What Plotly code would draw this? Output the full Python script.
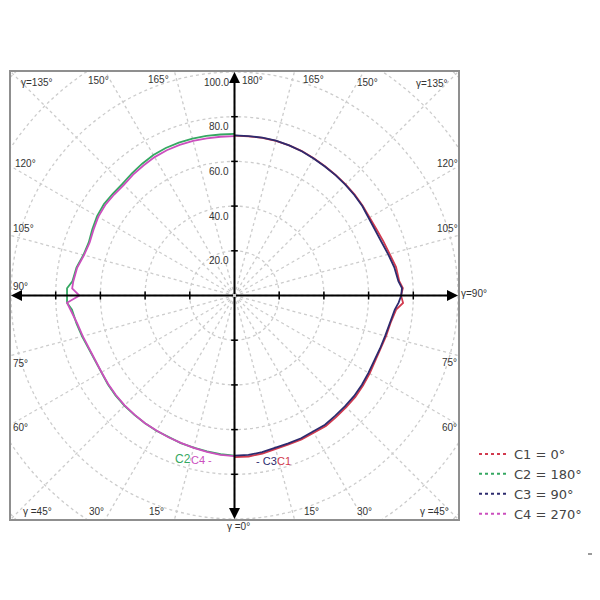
import numpy as np
import plotly.graph_objects as go

# gamma angles (deg), 0 = straight down, 180 = straight up
gamma = [0, 5, 10, 15, 20, 25, 30, 35, 40, 45, 50, 55, 60, 65, 70, 75, 80, 85,
         87.5, 90, 92.5,
         95, 100, 105, 110, 115, 120, 125, 130, 135, 140, 145, 150, 155, 160, 165, 170, 175, 180]

# C1 = 0 deg (right half)
c1 = [72.3, 72.3, 71.8, 71.2, 70.9, 71.0, 71.0, 71.3, 70.9, 70.7, 70.6, 70.2, 69.8, 69.5, 69.7, 70.2, 70.9, 72.6,
      75.5, 74.5, 75.4,
      74.0, 73.4, 72.0, 70.9, 70.1, 69.9, 70.0, 70.2, 70.3, 70.4, 70.6, 70.9, 71.3, 71.5, 71.6, 71.6, 71.5, 71.5]
# C3 = 90 deg (right half)
c3 = [71.6, 71.6, 71.2, 70.6, 70.4, 70.5, 70.3, 70.6, 70.2, 70.0, 69.9, 69.6, 69.2, 69.0, 69.3, 69.8, 70.6, 72.0,
      73.5, 74.6, 75.0,
      73.6, 72.6, 71.2, 70.0, 69.5, 69.5, 69.8, 70.0, 70.1, 70.3, 70.5, 70.8, 71.2, 71.5, 71.7, 71.7, 71.6, 71.6]
# C2 = 180 deg (left half)
c2 = [71.6, 71.3, 70.8, 70.5, 70.3, 70.0, 69.9, 69.8, 69.7, 69.7, 69.5, 69.2, 68.8, 68.7, 69.3, 70.6, 71.8, 73.0,
      75.0, 75.0, 75.0,
      72.8, 71.8, 70.0, 69.4, 70.2, 71.0, 71.3, 71.0, 70.8, 71.4, 72.0, 72.6, 72.8, 72.8, 72.7, 72.5, 72.3, 72.3]
# C4 = 270 deg (left half)
c4 = [71.9, 71.6, 71.0, 70.6, 70.2, 70.0, 69.8, 69.8, 69.6, 69.5, 69.3, 69.0, 68.7, 68.6, 69.2, 70.3, 71.5, 73.8,
      75.0, 69.4, 72.7,
      72.4, 71.5, 69.7, 69.0, 69.6, 70.4, 70.6, 70.3, 70.0, 70.6, 71.0, 71.5, 71.7, 71.7, 71.6, 71.4, 71.3, 71.3]

legend_names = ["C1 = 0°", "C2 = 180°", "C3 = 90°", "C4 = 270°"]
colors = {"C1": "#d23a4e", "C2": "#35a862", "C3": "#2d2b6e", "C4": "#cc4fbe"}

radial_ticks = [20, 40, 60, 80, 100]
radial_tick_labels = ["20.0", "40.0", "60.0", "80.0", "100.0"]

fig = go.Figure()

g = np.radians(gamma)
curves = [("C1", c1, 1), ("C3", c3, 1), ("C2", c2, -1), ("C4", c4, -1)]
for key, r, side in curves:
    r = np.array(r)
    fig.add_trace(go.Scatter(x=side * r * np.sin(g), y=-r * np.cos(g), mode="lines",
                             line=dict(color=colors[key], width=1.8),
                             showlegend=False, hoverinfo="skip"))

for name in legend_names:
    key = name[:2]
    fig.add_trace(go.Scatter(x=[None], y=[None], mode="lines", name=name,
                             line=dict(color=colors[key], width=2, dash="dot")))

shapes = []
grid = dict(color="#cccccc", width=1.3, dash="dot")
for rr in range(20, 160, 20):
    shapes.append(dict(type="circle", xref="x", yref="y", x0=-rr, x1=rr, y0=-rr, y1=rr,
                       line=grid, layer="below"))
for a in range(0, 360, 15):
    t = np.radians(a)
    shapes.append(dict(type="line", xref="x", yref="y", x0=0, y0=0,
                       x1=160 * np.sin(t), y1=160 * np.cos(t), line=grid, layer="below"))
# axis tick marks
for v in [20, 40, 60, 80]:
    for s in (1, -1):
        shapes.append(dict(type="line", xref="x", yref="y", x0=s * v, x1=s * v, y0=-1.8, y1=1.8,
                           line=dict(color="black", width=1.5)))
        shapes.append(dict(type="line", xref="x", yref="y", y0=s * v, y1=s * v, x0=-1.5, x1=1.5,
                           line=dict(color="black", width=1.5)))

# page offset of the plot div (body margin)
PAGE = 8
L, T, PW = 11, 72, 447


def P(px, py):
    return (px - L) / PW, (T + PW - py) / PW


shapes.append(dict(type="line", xref="paper", yref="paper",
                   x0=P(588, 0)[0], x1=P(600, 0)[0], y0=P(0, 554)[1], y1=P(0, 554)[1],
                   line=dict(color="#9a9a9a", width=2)))

annotations = []
for (x, y) in [(100, 0), (-100, 0), (0, 100), (0, -100)]:
    annotations.append(dict(x=x, y=y, ax=0, ay=0, xref="x", yref="y", axref="x", ayref="y",
                            text="", showarrow=True, arrowhead=2, arrowsize=1.1,
                            arrowwidth=2, arrowcolor="black", standoff=0, startstandoff=0))

lab_font = dict(family="Liberation Sans, Arial", size=10, color="#333333")
angle_labels = [
    ("γ=135°", 37, 82), ("150°", 98, 81), ("165°", 158, 79), ("180°", 252, 80),
    ("165°", 313, 79), ("150°", 367, 82), ("γ=135°", 432, 83),
    ("120°", 25, 163), ("105°", 23, 228), ("90°", 20, 286),
    ("75°", 20, 363), ("60°", 20, 427),
    ("γ =45°", 37, 511), ("30°", 96, 511), ("15°", 156, 511), ("γ =0°", 238, 526),
    ("120°", 447, 163), ("105°", 447, 228), ("γ=90°", 474, 293),
    ("75°", 449, 362), ("60°", 449, 427),
    ("15°", 311, 511), ("30°", 364, 511), ("γ =45°", 434, 511),
]
for txt, px, py in angle_labels:
    xp, yp = P(px, py)
    annotations.append(dict(x=xp, y=yp, xref="paper", yref="paper", text=txt, showarrow=False,
                            xanchor="center", yanchor="middle", font=lab_font))

for v, txt in zip(radial_ticks, radial_tick_labels):
    annotations.append(dict(x=-1.5, y=v, xref="x", yref="y", yshift=-10, text=txt, showarrow=False,
                            xanchor="right", yanchor="middle", font=lab_font))

curve_labels = [("C2", 183, 459, colors["C2"], 12), ("C4 -", 201, 460, colors["C4"], 11),
                ("- C3", 266, 461, colors["C3"], 11), ("C1", 284, 461, colors["C1"], 11)]
for txt, px, py, col, fs in curve_labels:
    xp, yp = P(px, py)
    annotations.append(dict(x=xp, y=yp, xref="paper", yref="paper", text=txt, showarrow=False,
                            xanchor="center", yanchor="middle",
                            font=dict(family="Liberation Sans, Arial", size=fs, color=col)))

ax_common = dict(range=[-100, 100], showgrid=False, zeroline=False, showticklabels=False,
                 ticks="", showline=True, mirror=True, linecolor="#8f8f8f", linewidth=2,
                 fixedrange=True)

lx, ly = P(474, 439)
fig.update_layout(
    width=600, height=600,
    margin=dict(l=L - PAGE, r=600 - (L - PAGE) - PW, t=T - PAGE, b=600 - (T - PAGE) - PW),
    paper_bgcolor="white", plot_bgcolor="white",
    xaxis=ax_common, yaxis=ax_common,
    shapes=shapes, annotations=annotations,
    showlegend=True,
    legend=dict(x=lx, y=ly, xanchor="left", yanchor="top", bgcolor="rgba(0,0,0,0)",
                font=dict(family="DejaVu Sans", size=13, color="#444444"),
                tracegroupgap=0, itemwidth=30),
)

fig.write_html("out.html")
